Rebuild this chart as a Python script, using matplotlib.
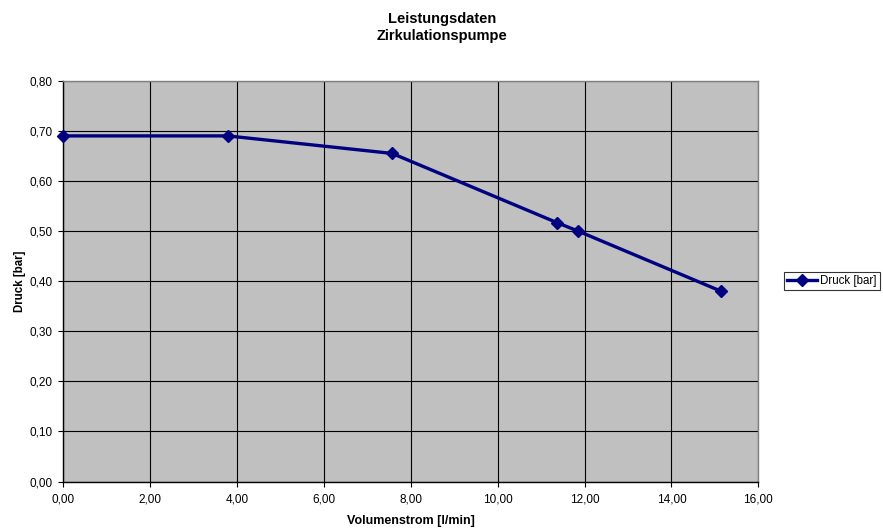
import matplotlib
matplotlib.use("Agg")
import matplotlib.pyplot as plt
from matplotlib.ticker import FuncFormatter, MultipleLocator

plt.rcParams['font.family'] = ['Liberation Sans', 'DejaVu Sans']

volumenstrom = [0.0, 3.785, 7.57, 11.36, 11.85, 15.14]
druck = [0.69, 0.69, 0.655, 0.517, 0.50, 0.38]
series_label = "Druck [bar]"
title = "Leistungsdaten\nZirkulationspumpe"
xlabel = "Volumenstrom [l/min]"
ylabel = "Druck [bar]"

W, H = 883, 529
fig = plt.figure(figsize=(W/100, H/100), dpi=100)
x0, x1, y0, y1 = 63.3, 758.3, 80.8, 481.5
ax = fig.add_axes([x0/W, 1 - y1/H, (x1-x0)/W, (y1-y0)/H])
ax.set_facecolor('#C0C0C0')

ax.plot(volumenstrom, druck, color='#000080', lw=2.4, marker='D', ms=6.5,
        label=series_label, clip_on=False, zorder=3)

ax.set_xlim(0, 16)
ax.set_ylim(0, 0.8)
ax.xaxis.set_major_locator(MultipleLocator(2))
ax.yaxis.set_major_locator(MultipleLocator(0.1))
fmt = FuncFormatter(lambda v, p: f"{v:.2f}".replace('.', ','))
ax.xaxis.set_major_formatter(fmt)
ax.yaxis.set_major_formatter(fmt)
ax.grid(True, color='black', lw=0.8)
ax.set_axisbelow(True)
for s in ['top', 'right']:
    ax.spines[s].set_color('#808080')
    ax.spines[s].set_linewidth(1.0)
for s in ['left', 'bottom']:
    ax.spines[s].set_color('black')
    ax.spines[s].set_linewidth(1.0)
ax.tick_params(direction='out', length=3.5, width=0.8, labelsize=8.5)
ax.tick_params(axis='x', pad=5.5)
ax.tick_params(axis='y', pad=4.5)

ax.set_xlabel(xlabel, fontsize=9, fontweight='bold', labelpad=6.5)
ax.set_ylabel(ylabel, fontsize=8.3, fontweight='bold', labelpad=2.5)
fig.text(442/W, 1 - 27.5/H, title, ha='center', va='center',
         fontsize=10.5, fontweight='bold', linespacing=1.3)

leg = fig.legend(loc='center left', bbox_to_anchor=(784/W, 1 - 281/H),
                 fontsize=8.3, frameon=True, fancybox=False, borderpad=0.3,
                 handlelength=2.6, handletextpad=0.2, borderaxespad=0,
                 markerscale=0.9)
leg.get_frame().set_edgecolor('black')
leg.get_frame().set_linewidth(0.8)

fig.savefig('out.png', dpi=100)
